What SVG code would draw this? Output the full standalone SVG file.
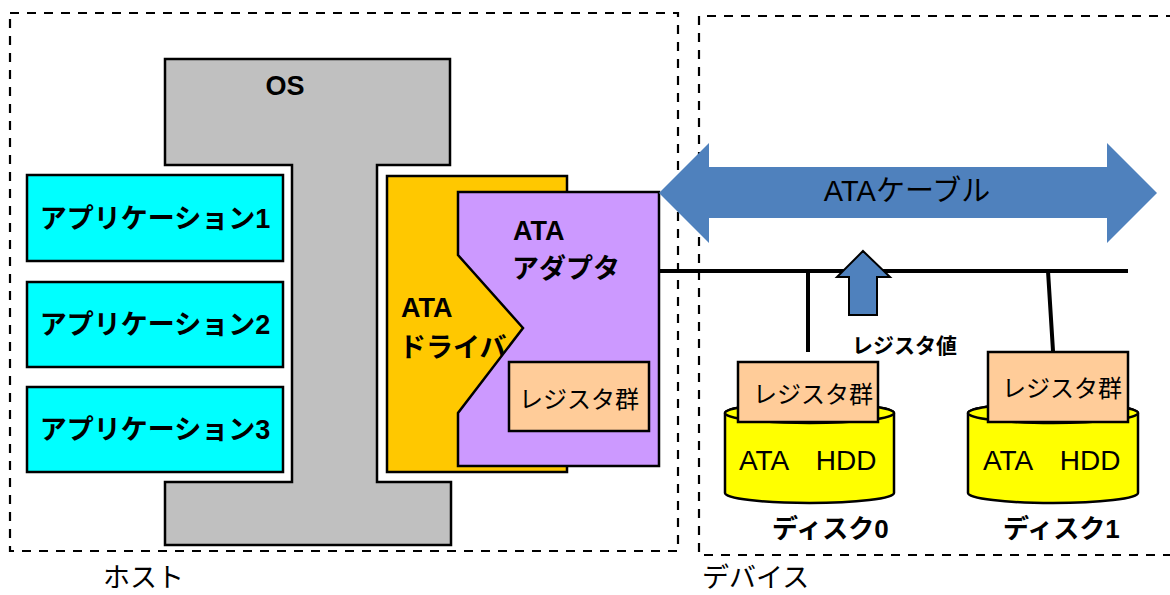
<svg xmlns="http://www.w3.org/2000/svg" width="1170" height="595" viewBox="0 0 1170 595">
  <style>
    text { font-family: "Liberation Sans", "Noto Sans CJK JP", sans-serif; fill: #000; }
    .b { font-weight: bold; }
    .frame { fill: none; stroke: #000; stroke-width: 2.2; stroke-dasharray: 9 8; }
    .box { stroke: #000; stroke-width: 2.5; }
    .app { fill: #00FFFF; }
    .reg { fill: #FFCC99; }
    .hdd { fill: #FFFF00; stroke: #000; stroke-width: 2.5; }
    .blue { fill: #4F81BD; }
    .wire { stroke: #000; stroke-width: 4; fill: none; }
  </style>

  <!-- host / device frames -->
  <g id="host">
    <rect class="frame" x="10" y="13" width="668" height="538"/>
    <text x="103" y="587" font-size="27">ホスト</text>
  </g>
  <g id="device">
    <path class="frame" d="M1175,16 L699,16 L699,555 L1175,555"/>
    <text x="702" y="587" font-size="27">デバイス</text>
  </g>

  <!-- operating system (I-beam shape) -->
  <g id="os">
    <path class="box" fill="#C0C0C0" d="M165,59 L450,59 L450,165 L377,165 L377,482 L451,482 L451,545 L165,545 L165,482 L292,482 L292,165 L165,165 Z"/>
    <text class="b" x="285" y="95" font-size="27" text-anchor="middle">OS</text>
  </g>

  <!-- applications -->
  <g id="app1">
    <rect class="box app" x="27" y="175" width="256" height="86"/>
    <text class="b" x="155" y="228" font-size="27" text-anchor="middle">アプリケーション1</text>
  </g>
  <g id="app2">
    <rect class="box app" x="27" y="282" width="256" height="85"/>
    <text class="b" x="155" y="334" font-size="27" text-anchor="middle">アプリケーション2</text>
  </g>
  <g id="app3">
    <rect class="box app" x="27" y="387" width="256" height="85"/>
    <text class="b" x="155" y="439" font-size="27" text-anchor="middle">アプリケーション3</text>
  </g>

  <!-- ATA driver -->
  <g id="ata-driver">
    <rect class="box" fill="#FFC800" x="387" y="176" width="180" height="296"/>
    <text class="b" x="401" y="317" font-size="27">ATA</text>
    <text class="b" x="399" y="357" font-size="27">ドライバ</text>
  </g>

  <!-- ATA adapter -->
  <g id="ata-adapter">
    <path class="box" fill="#CC99FF" d="M458,192 L659,192 L659,466 L458,466 L458,413 L523,328 L458,255 Z"/>
    <text class="b" x="513" y="240" font-size="27">ATA</text>
    <text class="b" x="512" y="278" font-size="27">アダプタ</text>
    <rect class="box reg" x="509" y="362" width="140" height="69"/>
    <text x="579" y="408" font-size="24" text-anchor="middle">レジスタ群</text>
  </g>

  <!-- ATA cable (double-headed block arrow) -->
  <g id="ata-cable">
    <path class="blue" d="M659,193 L709,143 L709,167 L1107,167 L1107,143 L1157,193 L1107,243 L1107,218 L709,218 L709,243 Z"/>
    <text x="907" y="201" font-size="29" text-anchor="middle">ATAケーブル</text>
  </g>

  <!-- bus wiring -->
  <g id="connectors">
    <path class="wire" d="M659,271 L1128,271"/>
    <path class="wire" d="M808,271 L808,352"/>
    <path class="wire" d="M1048,271 L1053,351"/>
  </g>

  <!-- register value transfer -->
  <g id="register-value">
    <path class="blue" stroke="#000" stroke-width="2" d="M863,251 L890,277 L877,277 L877,315 L849,315 L849,277 L837,277 Z"/>
    <text class="b" x="852" y="353" font-size="21">レジスタ値</text>
  </g>

  <!-- disk 0 -->
  <g id="disk0">
    <path class="hdd" d="M725,413 A84.5,10 0 0,1 894,413 L894,493 A84.5,10 0 0,1 725,493 Z"/>
    <ellipse class="hdd" cx="809.5" cy="413" rx="84.5" ry="10"/>
    <rect class="box reg" x="738" y="362" width="140" height="60"/>
    <text x="813" y="403" font-size="24" text-anchor="middle">レジスタ群</text>
    <text x="739" y="470" font-size="28">ATA　HDD</text>
    <text class="b" x="772" y="538" font-size="26">ディスク0</text>
  </g>

  <!-- disk 1 -->
  <g id="disk1">
    <path class="hdd" d="M968,413 A85,10 0 0,1 1138,413 L1138,493 A85,10 0 0,1 968,493 Z"/>
    <ellipse class="hdd" cx="1053" cy="413" rx="85" ry="10"/>
    <rect class="box reg" x="988" y="352" width="140" height="70"/>
    <text x="1062" y="397" font-size="24" text-anchor="middle">レジスタ群</text>
    <text x="983" y="470" font-size="28">ATA　HDD</text>
    <text class="b" x="1003" y="538" font-size="26">ディスク1</text>
  </g>
</svg>
